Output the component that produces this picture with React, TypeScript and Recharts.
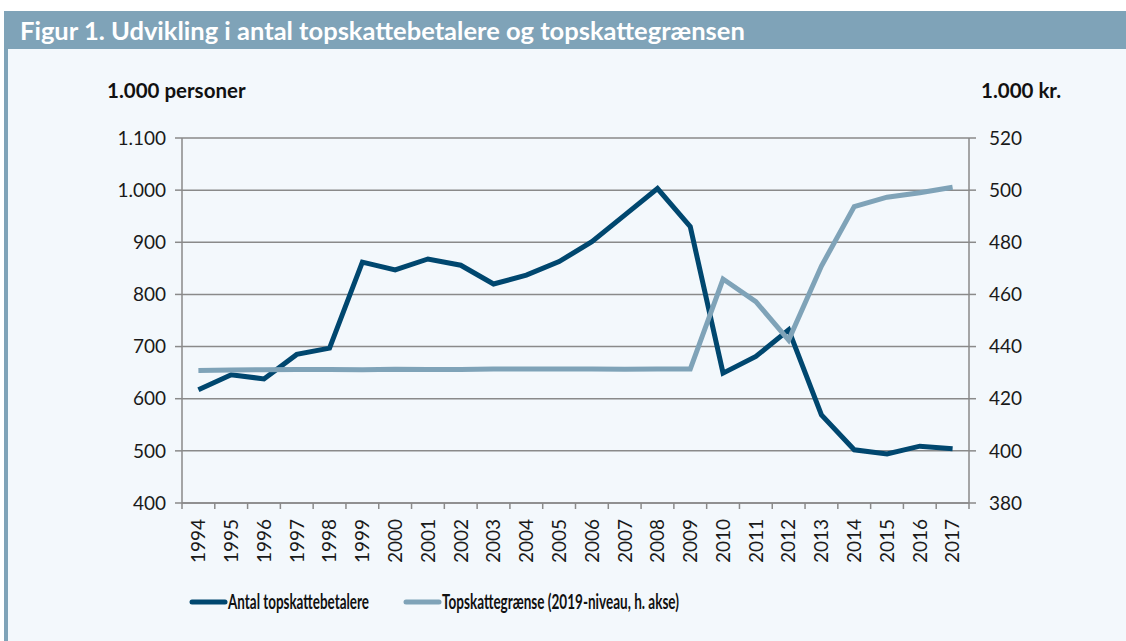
import { LineChart, Line, XAxis, YAxis, CartesianGrid } from "recharts";

const YEARS = [
  "1994", "1995", "1996", "1997", "1998", "1999", "2000", "2001", "2002", "2003", "2004", "2005",
  "2006", "2007", "2008", "2009", "2010", "2011", "2012", "2013", "2014", "2015", "2016", "2017",
];

// 1.000 personer (venstre akse)
const TAXPAYERS = [
  617, 646, 638, 685, 697, 862, 847, 868, 856, 820, 837, 863,
  901, 952, 1003, 930, 649, 681, 732, 569, 502, 494, 509, 504,
];

// 1.000 kr., 2019-niveau (hoejre akse)
const THRESHOLD = [
  430.8, 431.0, 431.1, 431.2, 431.2, 431.1, 431.3, 431.2, 431.2, 431.4, 431.4, 431.4,
  431.4, 431.3, 431.4, 431.4, 465.9, 457.2, 442.5, 470.9, 493.7, 497.3, 499.0, 501.1,
];

const LEFT_TICKS = [400, 500, 600, 700, 800, 900, 1000, 1100];
const RIGHT_TICKS = [380, 400, 420, 440, 460, 480, 500, 520];

const DARK = "#00476f";
const LIGHT = "#7fa3b8";
const GRID = "#8a8a8a";
const FONT = "Lato, 'Open Sans', sans-serif";

const data = YEARS.map((year, i) => ({
  year,
  pos: i,
  taxpayers: TAXPAYERS[i],
  threshold: THRESHOLD[i],
}));

// tick marks sit between the years
const boundaryTicks = [...YEARS.map((_, i) => i - 0.5), YEARS.length - 0.5];
const labelTicks = YEARS.map((_, i) => i);

const fmtThousands = (v: number) => v.toLocaleString("da-DK");

function YearTick(props: any) {
  const { x, y, payload } = props;
  return (
    <text
      x={x}
      y={y}
      dy="0.36em"
      transform={`rotate(-90, ${x}, ${y})`}
      textAnchor="end"
      fontFamily={FONT}
      fontSize={19}
      fill="#1a1a1a"
    >
      {YEARS[payload.value]}
    </text>
  );
}

function LegendItem({ color, label, width }: { color: string; label: string; width: number }) {
  return (
    <svg width={width + 70} height={40} style={{ display: "block", overflow: "visible" }}>
      <line x1={3} y1={15} x2={36} y2={15} stroke={color} strokeWidth={5} strokeLinecap="round" />
      <text
        x={39}
        y={22}
        fontFamily={FONT}
        fontWeight={700}
        fontSize={21}
        fill="#111"
        textLength={width}
        lengthAdjust="spacingAndGlyphs"
      >
        {label}
      </text>
    </svg>
  );
}

export default function App() {
  const axisTick = { fontFamily: FONT, fontSize: 19, fill: "#1a1a1a" };
  return (
    <div
      style={{
        position: "absolute",
        left: 0,
        top: 0,
        width: 1126,
        height: 641,
        background: "#ffffff",
        overflow: "hidden",
        fontFamily: FONT,
      }}
    >
      {/* title bar */}
      <div
        style={{
          position: "absolute",
          left: 4,
          top: 11,
          width: 1122,
          height: 38,
          background: LIGHT,
        }}
      />
      <div
        style={{
          position: "absolute",
          left: 20,
          top: 14,
          color: "#ffffff",
          fontWeight: 700,
          fontSize: 25.5,
          whiteSpace: "nowrap",
          lineHeight: "32px",
        }}
      >
        Figur 1. Udvikling i antal topskattebetalere og topskattegrænsen
      </div>

      {/* panel */}
      <div
        style={{
          position: "absolute",
          left: 4,
          top: 49,
          width: 1118,
          height: 592,
          background: "#f3f8fc",
          borderLeft: `4px solid ${LIGHT}`,
        }}
      />

      {/* axis units */}
      <div
        style={{
          position: "absolute",
          left: 107,
          top: 78,
          fontWeight: 700,
          fontSize: 20.5,
          color: "#111",
          whiteSpace: "nowrap",
        }}
      >
        1.000 personer
      </div>
      <div
        style={{
          position: "absolute",
          left: 981,
          top: 78,
          fontWeight: 700,
          fontSize: 20.5,
          color: "#111",
          whiteSpace: "nowrap",
        }}
      >
        1.000 kr.
      </div>

      <div style={{ position: "absolute", left: 0, top: 0 }}>
        <LineChart
          width={1126}
          height={641}
          data={data}
          margin={{ top: 138, right: 97, left: 122, bottom: 70 }}
        >
          <CartesianGrid
            yAxisId="left"
            vertical={false}
            stroke={GRID}
            strokeWidth={1.5}
          />
          <XAxis
            type="number"
            dataKey="pos"
            domain={[-0.5, YEARS.length - 0.5]}
            ticks={boundaryTicks}
            interval={0}
            height={8}
            tickSize={6}
            tick={() => <g />}
            axisLine={{ stroke: GRID, strokeWidth: 1.5 }}
            tickLine={{ stroke: GRID, strokeWidth: 1.5 }}
          />
          <XAxis
            xAxisId="labels"
            type="number"
            dataKey="pos"
            domain={[-0.5, YEARS.length - 0.5]}
            ticks={labelTicks}
            interval={0}
            height={60}
            tickSize={0}
            tickMargin={8}
            axisLine={false}
            tickLine={false}
            tick={<YearTick />}
          />
          <YAxis
            yAxisId="left"
            domain={[400, 1100]}
            ticks={LEFT_TICKS}
            interval={0}
            width={60}
            tickSize={7}
            tickMargin={9}
            tickFormatter={fmtThousands}
            tick={axisTick}
            axisLine={{ stroke: GRID, strokeWidth: 1.5 }}
            tickLine={{ stroke: GRID, strokeWidth: 1.5 }}
          />
          <YAxis
            yAxisId="right"
            orientation="right"
            domain={[380, 520]}
            ticks={RIGHT_TICKS}
            interval={0}
            width={60}
            tickSize={7}
            tickMargin={13}
            tick={{ ...axisTick, textAnchor: "start" }}
            axisLine={{ stroke: GRID, strokeWidth: 1.5 }}
            tickLine={{ stroke: GRID, strokeWidth: 1.5 }}
          />
          <Line
            yAxisId="left"
            type="linear"
            dataKey="taxpayers"
            name="Antal topskattebetalere"
            stroke={DARK}
            strokeWidth={5}
            dot={false}
            isAnimationActive={false}
          />
          <Line
            yAxisId="right"
            type="linear"
            dataKey="threshold"
            name="Topskattegrænse (2019-niveau, h. akse)"
            stroke={LIGHT}
            strokeWidth={5}
            dot={false}
            isAnimationActive={false}
          />
        </LineChart>
      </div>

      {/* legend */}
      <div style={{ position: "absolute", left: 189, top: 587 }}>
        <LegendItem color={DARK} label="Antal topskattebetalere" width={141} />
      </div>
      <div style={{ position: "absolute", left: 403, top: 587 }}>
        <LegendItem color={LIGHT} label="Topskattegrænse (2019-niveau, h. akse)" width={237} />
      </div>
    </div>
  );
}
